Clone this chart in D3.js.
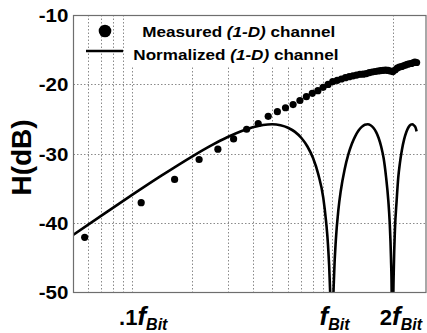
<!DOCTYPE html>
<html>
<head>
<meta charset="utf-8">
<script src="https://cdn.jsdelivr.net/npm/d3@7"></script>
<style>
  body { margin: 0; background: #fff; }
  svg { display: block; }
  text { font-family: "Liberation Sans", Arial, sans-serif; font-weight: bold; fill: #000; }
</style>
</head>
<body>
<svg id="chart" width="427" height="333"></svg>
<script>
// Measured (1-D) channel: frequency (in units of f_Bit) and magnitude (dB)
const measuredFreq = [0.058, 0.111, 0.163, 0.216, 0.268, 0.321, 0.373, 0.426, 0.478, 0.531,
  0.583, 0.636, 0.688, 0.741, 0.793, 0.846, 0.898, 0.951, 1.003, 1.056,
  1.108, 1.161, 1.213, 1.266, 1.318, 1.371, 1.423, 1.476, 1.528, 1.581,
  1.633, 1.686, 1.738, 1.791, 1.843, 1.896, 1.948, 2.001, 2.053, 2.106,
  2.158, 2.211, 2.263, 2.316, 2.368, 2.421, 2.473, 2.526, 2.578, 2.631];
const measuredDb = [-42.1, -37.1, -33.75, -30.87, -29.38, -27.9, -26.5, -25.67, -24.63, -23.96,
  -23.39, -22.94, -22.35, -21.8, -21.31, -20.93, -20.44, -20.02, -19.63, -19.43,
  -19.24, -19.05, -18.91, -18.79, -18.68, -18.56, -18.54, -18.46, -18.32, -18.23,
  -18.16, -18.09, -18.04, -17.99, -17.96, -18.0, -18.09, -18.17, -17.94, -17.65,
  -17.51, -17.44, -17.34, -17.22, -17.12, -17.05, -17.0, -16.9, -16.79, -16.86];

// Normalized (1-D) channel response; the nulls fall below the plotted range
const normFreq = [0.05, 0.07, 0.1, 0.14, 0.2, 0.25, 0.3, 0.35, 0.4, 0.45,
  0.5, 0.55, 0.6, 0.65, 0.7, 0.75, 0.8, 0.85, 0.9, 0.93,
  0.95, 0.97, 0.98, 0.993, 1.005, 1.02, 1.04, 1.07, 1.1, 1.15,
  1.2, 1.25, 1.3, 1.35, 1.4, 1.45, 1.5, 1.55, 1.6, 1.65,
  1.7, 1.75, 1.8, 1.85, 1.9, 1.93, 1.96, 1.975, 1.995, 2.01,
  2.025, 2.05, 2.09, 2.13, 2.17, 2.22, 2.28, 2.34, 2.4, 2.46,
  2.5, 2.55, 2.6, 2.63];
const normDb = [-41.89, -39.0, -35.98, -33.2, -30.4, -28.79, -27.62, -26.78, -26.22, -25.89,
  -25.78, -25.92, -26.28, -26.88, -27.76, -28.99, -30.66, -33.02, -36.4, -39.91,
  -43.19, -48.61, -53.56, -80, -54.25, -47.22, -42.43, -38.19, -35.41, -32.3,
  -30.14, -28.6, -27.49, -26.69, -26.16, -25.86, -25.78, -25.92, -26.28, -26.88,
  -27.76, -28.99, -30.66, -33.3, -36.8, -39.9, -45.2, -50.0, -80, -52.32,
  -46.31, -41.07, -36.9, -33.49, -31.42, -29.53, -27.93, -26.85, -26.17, -25.83,
  -25.78, -25.93, -26.26, -26.8];

const yTicks = [-10, -20, -30, -40, -50];
const yGrid = [-20, -30, -40];
const xGrid = [0.06, 0.07, 0.08, 0.09, 0.1, 0.2, 0.3, 0.4, 0.5, 0.6, 0.7, 0.8, 0.9, 1, 2];
const xTickValues = [0.1, 1, 2];
const xTickPrefix = [".1", "", "2"];
const legendLabels = [
  ["Measured ", "(1-D)", " channel"],
  ["Normalized ", "(1-D)", " channel"]
];

const W = 427, H = 333;
const m = { top: 15, right: 1, bottom: 41, left: 73.5 };
const SX = 1.14; // glyph width factor for the wide bold lettering

const x = d3.scaleLog().domain([0.051, 2.93]).range([m.left, W - m.right]);
const y = d3.scaleLinear().domain([-50, -10]).range([H - m.bottom, m.top]);

const svg = d3.select("#chart");

svg.append("defs").append("clipPath").attr("id", "plot-clip")
  .append("rect")
  .attr("x", m.left).attr("y", m.top)
  .attr("width", W - m.right - m.left).attr("height", H - m.bottom - m.top);

// dotted grid
const grid = svg.append("g").attr("stroke", "#8a8a8a").attr("stroke-width", 1)
  .attr("stroke-dasharray", "1.5,2").attr("fill", "none");
grid.selectAll("line.v").data(xGrid).join("line").attr("class", "v")
  .attr("x1", d => Math.round(x(d)) + 0.5).attr("x2", d => Math.round(x(d)) + 0.5)
  .attr("y1", y(-10)).attr("y2", y(-50));
grid.selectAll("line.h").data(yGrid).join("line").attr("class", "h")
  .attr("x1", m.left).attr("x2", W - m.right)
  .attr("y1", d => Math.round(y(d)) + 0.5).attr("y2", d => Math.round(y(d)) + 0.5);

// legend backdrop
svg.append("rect")
  .attr("x", 126).attr("y", 16).attr("width", 220).attr("height", 51)
  .attr("fill", "#fff");

// normalized channel curve
const line = d3.line()
  .x((d, i) => x(normFreq[i]))
  .y(d => y(d))
  .curve(d3.curveMonotoneX);
svg.append("path")
  .datum(normDb)
  .attr("clip-path", "url(#plot-clip)")
  .attr("fill", "none").attr("stroke", "#000").attr("stroke-width", 2.6)
  .attr("stroke-linejoin", "round")
  .attr("d", line);

// measured channel points
svg.append("g").selectAll("circle").data(measuredDb).join("circle")
  .attr("cx", (d, i) => x(measuredFreq[i]))
  .attr("cy", d => y(d))
  .attr("r", 3.6)
  .attr("fill", "#000");

// frame
svg.append("rect")
  .attr("x", m.left).attr("y", m.top + 0.5)
  .attr("width", W - m.right - m.left).attr("height", H - m.bottom - m.top)
  .attr("fill", "none").attr("stroke", "#6e6e6e").attr("stroke-width", 1.2);

// y axis labels
const yAxis = d3.axisLeft(y).tickValues(yTicks).tickSize(0).tickFormat(d => String(d));
const gy = svg.append("g").attr("transform", `translate(${m.left},0)`).call(yAxis);
gy.select(".domain").remove();
gy.selectAll("text")
  .attr("x", 0).attr("dy", null).attr("y", 6.5)
  .attr("transform", `translate(-5.2,0) scale(${SX},1)`)
  .style("font-size", "18px")
  .attr("text-anchor", "end");

// x axis labels: prefix, f, subscript Bit
const xAxis = d3.axisBottom(x).tickValues(xTickValues).tickSize(0).tickFormat(() => "");
const gx = svg.append("g").attr("transform", `translate(0,${H - m.bottom})`).call(xAxis);
gx.select(".domain").remove();
gx.selectAll(".tick text").each(function (d, i) {
  const t = d3.select(this)
    .attr("x", 0).attr("y", 0).attr("dy", null)
    .attr("transform", "translate(-13.5,33.3)")
    .attr("text-anchor", "start");
  t.append("tspan").style("font-size", "22px").text(xTickPrefix[i]);
  t.append("tspan").style("font-size", "26px").style("font-style", "italic").text("f");
  t.append("tspan").style("font-size", "16px").style("font-style", "italic")
    .attr("dy", 4.5).text("Bit");
});

// y axis title
svg.append("text")
  .attr("transform", "translate(31,157.5) rotate(-90)")
  .attr("text-anchor", "middle")
  .style("font-size", "28px")
  .text("H(dB)");

// legend
const lg = svg.append("g");
lg.append("circle").attr("cx", 105).attr("cy", 31).attr("r", 6.3).attr("fill", "#000");
lg.append("line").attr("x1", 86).attr("x2", 123).attr("y1", 51).attr("y2", 51)
  .attr("stroke", "#000").attr("stroke-width", 2.6);
const legendPos = [[142.3, 37.3], [133.3, 60]];
legendLabels.forEach((parts, i) => {
  const t = lg.append("text")
    .attr("transform", `translate(${legendPos[i][0]},${legendPos[i][1]}) scale(${SX},1)`)
    .style("font-size", "15px");
  parts.forEach((p, j) => {
    t.append("tspan").style("font-style", j === 1 ? "italic" : "normal").text(p);
  });
});
</script>
</body>
</html>
